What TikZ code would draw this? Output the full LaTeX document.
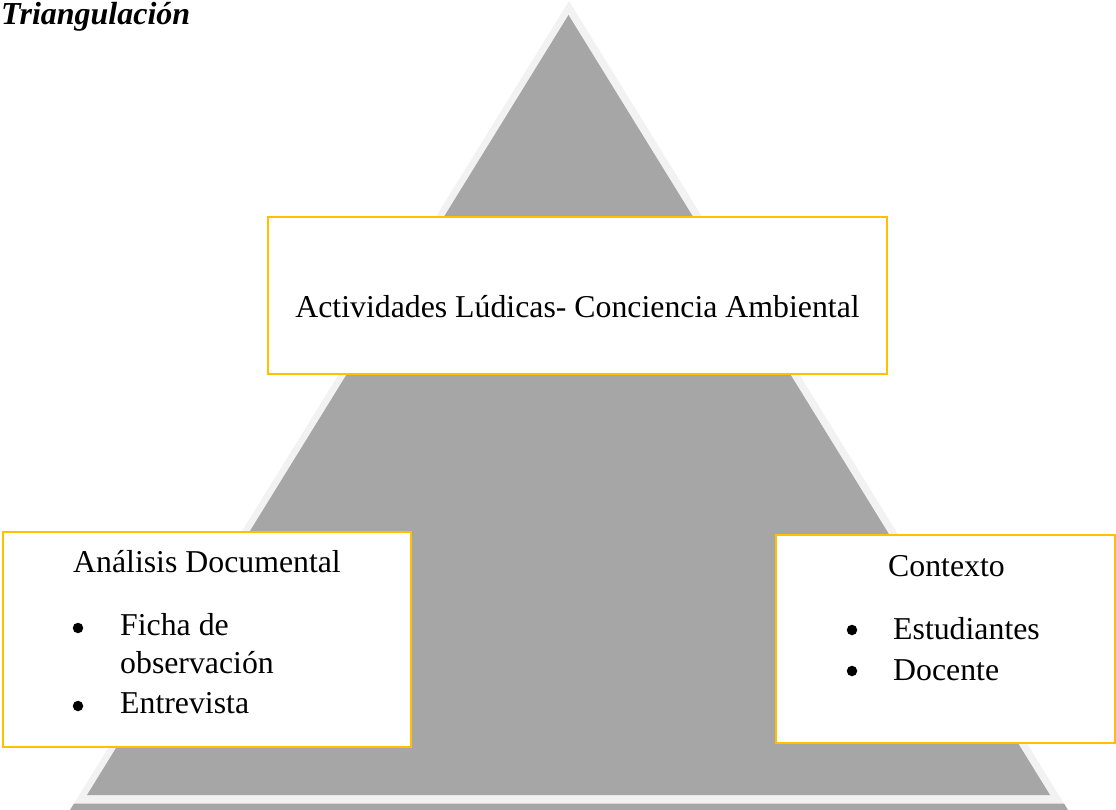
\documentclass[tikz,border=0pt]{standalone}
\usepackage{fontspec}
\setmainfont{Liberation Serif}
\definecolor{lightgr}{HTML}{F2F2F2}
\definecolor{midgr}{HTML}{A6A6A6}
\definecolor{gold}{HTML}{FFC000}
\begin{document}
\begin{tikzpicture}[x=1bp,y=-1bp,
  box/.style={draw=gold,line width=2bp,fill=white},
  txt/.style={inner sep=0pt,font=\fontsize{31.8bp}{38bp}\selectfont},
  bul/.style={circle,fill=black,inner sep=0pt,minimum size=10.5bp}]
\useasboundingbox (0,0) rectangle (1116,810);
% triangle
\fill[lightgr] (569,1) -- (1068,810) -- (70,810) -- cycle;
\fill[midgr] (74,803.5) -- (1064,803.5) -- (1068,810) -- (70,810) -- cycle;
\fill[midgr] (568.5,15) -- (1050,795) -- (87,795) -- cycle;
% title
\node[txt,anchor=base west,font=\fontsize{32bp}{38bp}\selectfont\bfseries\itshape] (title) at (1,25) {Triangulación};
% top box
\draw[box] (268,217) rectangle (887,374);
\node[txt,anchor=base] (top) at (577.5,317) {Actividades Lúdicas- Conciencia Ambiental};
% left box
\draw[box] (3,532) rectangle (411,747);
\node[txt,anchor=base west] (ad) at (73,572) {Análisis Documental};
\node[bul] (b1) at (78,628) {};
\node[txt,anchor=base west] (ficha) at (120,635) {Ficha de};
\node[txt,anchor=base west] (obs) at (120,673) {observación};
\node[bul] (b2) at (78,706) {};
\node[txt,anchor=base west] (ent) at (120,713) {Entrevista};
% right box
\draw[box] (776,535) rectangle (1115,743);
\node[txt,anchor=base west] (ctx) at (888,576) {Contexto};
\node[bul] (b3) at (852,630) {};
\node[txt,anchor=base west] (est) at (893,639) {Estudiantes};
\node[bul] (b4) at (852,671) {};
\node[txt,anchor=base west] (doc) at (893,680) {Docente};
\end{tikzpicture}
\end{document}
